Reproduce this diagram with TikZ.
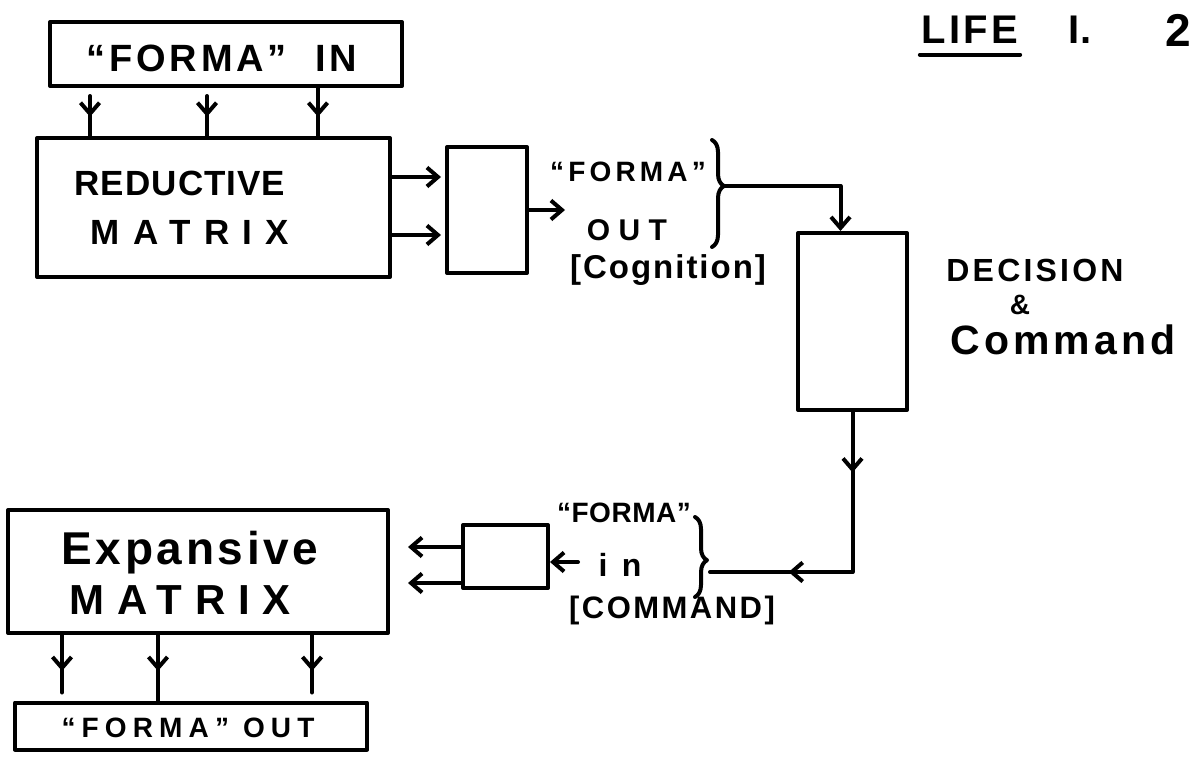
\documentclass[tikz,border=0pt]{standalone}
\usepackage{fontspec}
\setmainfont{Liberation Sans}
\usetikzlibrary{arrows.meta,decorations.markings,decorations.pathreplacing}
\newcommand\mylbl[3]{{\fontsize{#1}{#1}\selectfont\bfseries\addfontfeature{LetterSpace=#2}#3}}
\begin{document}
\begin{tikzpicture}[x=1pt,y=-1pt,
  line width=4pt, line cap=round, line join=round,
  box/.style={draw, rectangle, inner sep=0pt},
  arr/.style={-{Straight Barb[length=11pt,width=19pt]}},
  midarr/.style={postaction={decorate},decoration={markings,mark=at position #1 with {\arrow{Straight Barb[length=11pt,width=19pt]}}}},
  twoarr/.style={postaction={decorate},decoration={markings,
     mark=at position 0.2 with {\arrow{Straight Barb[length=11pt,width=19pt]}},
     mark=at position 0.74 with {\arrow{Straight Barb[length=11pt,width=19pt]}}}},
  txt/.style={inner sep=0pt, anchor=center},
  brc/.style={decorate, decoration={brace, amplitude=12pt, aspect=#1}}
]
\path[fill=white] (0,0) rectangle (1198,766);
\useasboundingbox (0,0) rectangle (1198,766);

% boxes
\node[box, minimum width=352pt, minimum height=64pt] (fin) at (226,54) {};
\node[box, minimum width=353pt, minimum height=139pt] (red) at (213.5,207.5) {};
\node[box, minimum width=80pt, minimum height=126pt] (s1) at (487,210) {};
\node[box, minimum width=109pt, minimum height=177pt] (dec) at (852.5,321.5) {};
\node[box, minimum width=85pt, minimum height=63pt] (s2) at (505.5,556.5) {};
\node[box, minimum width=380pt, minimum height=123pt] (exp) at (198,571.5) {};
\node[box, minimum width=352pt, minimum height=47pt] (fout) at (191,726) {};

% texts
\node[txt] (tfin) at (222,58) {\mylbl{38}{10}{``FORMA''\ \ IN}};
\node[txt] (tred1) at (180,183) {\mylbl{35}{3}{REDUCTIVE}};
\node[txt] (tred2) at (190,232) {\mylbl{35}{38}{MATRIX}};
\node[txt] (tfo1) at (628,172) {\mylbl{28}{15}{``FORMA''}};
\node[txt] (tfo2) at (627,230) {\mylbl{30}{28}{OUT}};
\node[txt] (tfo3) at (668,270) {\mylbl{33}{6}{[Cognition]}};
\node[txt] (tdec1) at (1035,270) {\mylbl{32}{10}{DECISION}};
\node[txt] (tdec2) at (1020,305) {\mylbl{28}{0}{\&}};
\node[txt] (tdec3) at (1063,340) {\mylbl{41}{10}{Command}};
\node[txt] (life) at (970,30) {\mylbl{40}{8}{LIFE}};
\node[txt] (lifei) at (1080,30) {\mylbl{40}{0}{I.}};
\node[txt] (life2) at (1178,30) {\mylbl{46}{0}{2}};
\node[txt] (tci1) at (624,513) {\mylbl{28}{2}{``FORMA''}};
\node[txt] (tci2) at (620,565) {\mylbl{32}{45}{in}};
\node[txt] (tci3) at (672,610) {\mylbl{31}{8}{[COMMAND]}};
\node[txt] (texp1) at (190,553) {\mylbl{46}{8}{Expansive}};
\node[txt] (texp2) at (180,600) {\mylbl{42}{30}{MATRIX}};
\node[txt] (tfout) at (188,728) {\mylbl{28}{22}{``FORMA''\ OUT}};

\draw ([yshift=-9pt]life.south west) -- ([yshift=-9pt]life.south east);

% helper coordinates
\coordinate (tx1) at (90,0);
\coordinate (tx2) at (207,0);
\coordinate (tx3) at (318,0);
\coordinate (bx1) at (62,0);
\coordinate (bx2) at (158,0);
\coordinate (bx3) at (312,0);
\coordinate (ya) at (0,177);
\coordinate (yb) at (0,235);
\coordinate (yc) at (0,210);
\coordinate (fo) at (565,210);
\coordinate (b1) at (724,186);
\coordinate (b2) at (710,572);
\coordinate (ci) at (578,562);
\coordinate (yd) at (0,547);
\coordinate (ye) at (0,583);
\path (dec.north) ++(-12,0) coordinate (dtop);

% input arrows
\draw[midarr=0.6, shorten <=8pt] (fin.south -| tx1) -- (red.north -| tx1);
\draw[midarr=0.6, shorten <=8pt] (fin.south -| tx2) -- (red.north -| tx2);
\draw[midarr=0.6] (fin.south -| tx3) -- (red.north -| tx3);

% reductive -> small box
\draw[arr, shorten >=4pt] (red.east |- ya) -- (s1.west |- ya);
\draw[arr, shorten >=4pt] (red.east |- yb) -- (s1.west |- yb);
\draw[arr] (s1.east |- yc) -- (fo);

% braces
\draw[brc=0.43] (712,140) -- (712,247);
\draw[brc=0.54] (695,517) -- (695,597);

% to decision
\draw[arr] (b1) -| (dtop);
% decision -> command
\draw[twoarr] (dec.south) |- (b2);
\draw[arr] (ci) -- (s2.east |- ci);

% small box 2 -> expansive
\draw[arr, shorten >=18pt] (s2.west |- yd) -- (exp.east |- yd);
\draw[arr, shorten >=18pt] (s2.west |- ye) -- (exp.east |- ye);

% output arrows
\draw[midarr=0.55, shorten >=8pt] (exp.south -| bx1) -- (fout.north -| bx1);
\draw[midarr=0.55] (exp.south -| bx2) -- (fout.north -| bx2);
\draw[midarr=0.55, shorten >=8pt] (exp.south -| bx3) -- (fout.north -| bx3);
\end{tikzpicture}
\end{document}
